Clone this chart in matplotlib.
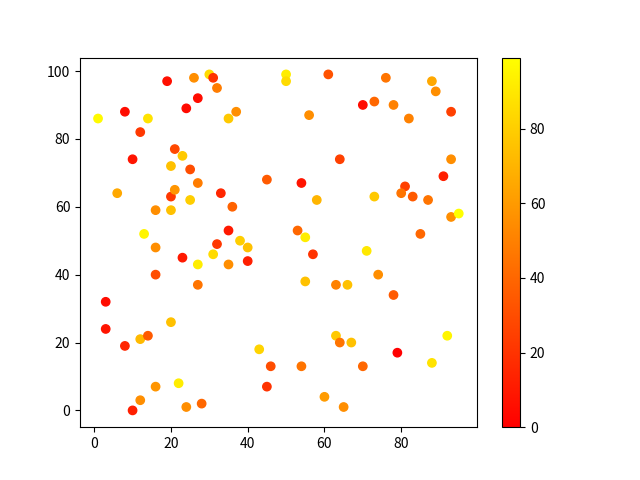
import matplotlib
matplotlib.use("Agg")
import matplotlib.pyplot as plt

plt.rcParams['font.family'] = ['Noto Sans CJK SC', 'DejaVu Sans']

# x, y and colour value of each point
x_vals = [1, 8, 14, 12, 10, 19, 26, 30, 31, 32, 24, 27, 35, 37, 21, 23, 20, 25, 27, 20,
          21, 6, 16, 20, 25, 33, 36, 45, 13, 16, 16, 23, 32, 35, 38, 40, 27, 31, 35, 40,
          27, 3, 3, 8, 12, 14, 20, 22, 16, 12, 10, 24, 28, 43, 46, 45,
          50, 50, 61, 76, 88, 89, 70, 73, 78, 82, 93, 56, 64, 93, 54, 91, 81, 80, 83, 87,
          58, 73, 93, 95, 53, 55, 85, 57, 71, 74, 55, 63, 66, 78, 63, 64, 67, 92, 79, 88,
          54, 70, 60, 65]
y_vals = [86, 88, 86, 82, 74, 97, 98, 99, 98, 95, 89, 92, 86, 88, 77, 75, 72, 71, 67, 63,
          65, 64, 59, 59, 62, 64, 60, 68, 52, 48, 40, 45, 49, 53, 50, 48, 43, 46, 43, 44,
          37, 32, 24, 19, 21, 22, 26, 8, 7, 3, 0, 1, 2, 18, 13, 7,
          99, 97, 99, 98, 97, 94, 90, 91, 90, 86, 88, 87, 74, 74, 67, 69, 66, 64, 63, 62,
          62, 63, 57, 58, 53, 51, 52, 46, 47, 40, 38, 37, 37, 34, 22, 20, 20, 22, 17, 14,
          13, 13, 4, 1]
c_vals = [97, 5, 88, 22, 8, 6, 55, 85, 20, 48, 4, 5, 78, 55, 28, 78, 75, 30, 48, 22,
          58, 65, 55, 75, 80, 15, 38, 35, 95, 55, 30, 10, 22, 10, 80, 75, 92, 85, 55, 12,
          45, 5, 8, 15, 72, 35, 75, 92, 58, 55, 12, 55, 40, 82, 30, 20,
          92, 85, 32, 45, 65, 55, 5, 40, 50, 50, 25, 55, 25, 55, 8, 12, 25, 45, 35, 45,
          70, 78, 55, 99, 40, 92, 40, 20, 90, 55, 75, 50, 75, 35, 78, 45, 75, 95, 0, 88,
          45, 40, 60, 55]

fig, ax = plt.subplots(figsize=(6.4, 4.8), dpi=100)
sc = ax.scatter(x_vals, y_vals, c=c_vals, cmap='autumn')
fig.colorbar(sc)

fig.savefig("out.png", dpi=100)
